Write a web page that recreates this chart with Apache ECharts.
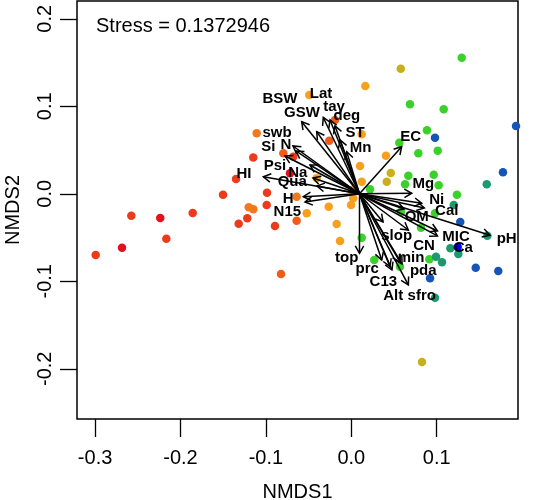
<!DOCTYPE html>
<html><head><meta charset="utf-8">
<script src="https://cdn.jsdelivr.net/npm/echarts@6/dist/echarts.min.js"></script>
<style>html,body{margin:0;padding:0;background:#fff}#c{width:534px;height:500px}</style>
</head><body><div id="c"></div>
<script>
// ---- axis ticks ----
const xTicks = [-0.3, -0.2, -0.1, 0.0, 0.1];
const yTicks = [-0.2, -0.1, 0.0, 0.1, 0.2];
const stressText = 'Stress = 0.1372946';

// ---- site scores (NMDS1, NMDS2), grouped by colour class ----
const sitesRed = [[-0.2685,-0.0616],[-0.2237,-0.0277],[-0.0718,0.0234]];
const sitesRedOrange = [[-0.2993,-0.0699],[-0.2576,-0.0250],[-0.2166,-0.0513],[-0.1857,-0.0219],[-0.1502,-0.0010],
  [-0.1350,0.0169],[-0.1319,-0.0342],[-0.1218,-0.0280],[-0.0894,-0.0368],[-0.0987,0.0013],[-0.0991,-0.0128],
  [-0.0680,0.0424],[-0.1148,0.0415]];
const sitesOrangeRed = [[-0.0796,0.0463],[-0.0640,-0.0307],[-0.0823,-0.0917],[-0.0191,0.0843],[-0.0258,0.0607]];
const sitesOrange = [[-0.1201,-0.0154],[-0.1148,-0.0177],[-0.1108,0.0691],[-0.0640,-0.0033]];
const sitesAmber = [[-0.0522,-0.0223],[-0.0492,0.1129],[0.0164,0.1232],[0.0122,0.0680],[0.0102,0.0318],[0.0122,0.0138],
  [0.0406,0.0435],[0.0005,0.0043],[0.0023,-0.0051],[-0.0003,-0.0128],[-0.0265,-0.0147],[-0.0171,-0.0345],
  [-0.0132,-0.0539],[-0.0405,0.0177]];
const sitesOlive = [[0.0579,0.1430],[0.0462,0.0238],[0.0415,0.0138],[0.0828,-0.1922]];
const sitesGreen = [[0.1293,0.1555],[0.0687,0.1023],[0.1082,0.0966],[0.0886,0.0726],[0.0785,0.0463],[0.1012,0.0493],
  [0.0562,0.0584],[0.0668,0.0207],[0.0965,0.0218],[0.0629,0.0109],[0.1023,0.0097],[0.0219,0.0051],[0.1237,-0.0010],
  [0.0582,-0.0205],[0.0816,-0.0387],[0.0980,-0.0223],[0.0122,-0.0502],[0.0269,-0.0757],[0.0570,-0.0833],[0.0914,-0.0749]];
const sitesTeal = [[0.0992,-0.0719],[0.1062,-0.0783],[0.1160,-0.0623],[0.1253,-0.0688],[0.1200,-0.0128],[0.1586,0.0109],
  [0.0980,-0.1187],[0.1593,-0.0479]];
const sitesBlue = [[0.1276,-0.0322],[0.0980,0.0641],[0.1929,0.0775],[0.1776,0.0246],[0.1457,-0.0845],[0.1721,-0.0882],
  [0.0922,-0.0966]];
const sitesBrightBlue = [[0.1246,-0.0608]];

// ---- environmental fitted vectors (drawn from a common origin) ----
const arrowOrigin = [0.0096, 0.0];
const envNames = ['BSW','GSW','Lat','tay','deg','ST','Mn','swb','N','Si','Psi','Na','Qua','HI','H','N15',
  'EC','Mg','Ni','Cal','OM','MIC','Ca','pH','CN','slop','top','min','prc','C13','pda','Alt','sfro'];
const envX = [-0.0581,-0.0405,-0.0328,-0.0249,-0.0191,-0.0132,-0.0054,-0.0683,-0.0648,-0.0776,-0.0484,-0.0448,-0.0402,-0.1030,-0.0562,-0.0542,
  0.0590,0.0708,0.0825,0.0855,0.0618,0.1009,0.1009,0.1624,0.0668,0.0372,0.0096,0.0570,0.0356,0.0454,0.0594,0.0476,0.0668];
const envY = [0.0824,0.0710,0.0872,0.0843,0.0775,0.0615,0.0481,0.0546,0.0489,0.0432,0.0329,0.0181,0.0089,0.0195,-0.0033,-0.0094,
  0.0538,0.0006,-0.0109,-0.0162,-0.0174,-0.0425,-0.0482,-0.0474,-0.0414,-0.0322,-0.0680,-0.0779,-0.0757,-0.0833,-0.0802,-0.0871,-0.1042];
const envLabelX = [-0.0835,-0.0577,-0.0355,-0.0202,-0.0051,0.0044,0.0110,-0.0870,-0.0765,-0.0972,-0.0894,-0.0627,-0.0691,-0.1256,-0.0738,-0.0749,
  0.0695,0.0843,0.1000,0.1118,0.0766,0.1226,0.1311,0.1819,0.0851,0.0531,-0.0054,0.0700,0.0187,0.0375,0.0843,0.0491,0.0825];
const envLabelY = [0.1083,0.0923,0.1141,0.0989,0.0889,0.0698,0.0527,0.0695,0.0558,0.0538,0.0318,0.0241,0.0131,0.0230,-0.0059,-0.0208,
  0.0646,0.0112,-0.0071,-0.0197,-0.0269,-0.0494,-0.0616,-0.0520,-0.0597,-0.0482,-0.0737,-0.0730,-0.0863,-0.1005,-0.0882,-0.1168,-0.1168];

const FONT = '"Liberation Sans", Helvetica, Arial, sans-serif';

const groups = [
  [sitesRed, '#e5101c'], [sitesRedOrange, '#ec3b1b'], [sitesOrangeRed, '#f05c18'], [sitesOrange, '#f4781b'],
  [sitesAmber, '#f7a01e'], [sitesOlive, '#c9b01b'], [sitesGreen, '#3ad12b'], [sitesTeal, '#1b9a6e'],
  [sitesBlue, '#1555b8'], [sitesBrightBlue, '#0000f5']
];

const series = groups.map(g => ({
  type: 'scatter', data: g[0], symbol: 'circle', symbolSize: 8.5,
  itemStyle: { color: g[1], opacity: 1 }, z: 2, silent: true
}));

series.push({
  type: 'custom', z: 3, silent: true,
  data: envX.map((x, i) => [x, envY[i]]),
  renderItem: function (params, api) {
    const o = api.coord(arrowOrigin);
    const t = api.coord([api.value(0), api.value(1)]);
    const ang = Math.atan2(t[1] - o[1], t[0] - o[0]);
    const L = 8.5, a = Math.PI / 6;
    const h1 = [t[0] - L * Math.cos(ang - a), t[1] - L * Math.sin(ang - a)];
    const h2 = [t[0] - L * Math.cos(ang + a), t[1] - L * Math.sin(ang + a)];
    return { type: 'group', children: [
      { type: 'line', shape: { x1: o[0], y1: o[1], x2: t[0], y2: t[1] }, style: { stroke: '#000', lineWidth: 1.5 } },
      { type: 'polyline', shape: { points: [h1, t, h2] }, style: { stroke: '#000', fill: null, lineWidth: 1.5 } }
    ]};
  }
});

series.push({
  type: 'custom', z: 4, silent: true,
  data: envLabelX.map((x, i) => [x, envLabelY[i]]),
  renderItem: function (params, api) {
    const p = api.coord([api.value(0), api.value(1)]);
    return { type: 'text', x: p[0], y: p[1], style: {
      text: envNames[params.dataIndex], fill: '#000', fontFamily: FONT, fontWeight: 'bold', fontSize: 15,
      align: 'center', verticalAlign: 'middle' } };
  }
});

const option = {
  animation: false,
  backgroundColor: '#fff',
  grid: { left: 77, right: 16, top: 1, bottom: 81, show: true, borderColor: '#000', borderWidth: 1.5, backgroundColor: 'transparent' },
  xAxis: {
    type: 'value', min: -0.3212, max: 0.1952,
    axisLine: { show: false, onZero: false }, splitLine: { show: false },
    axisTick: { show: true, customValues: xTicks, length: 18, lineStyle: { color: '#000', width: 1.3 } },
    axisLabel: { customValues: xTicks, formatter: v => v.toFixed(1), color: '#000', fontSize: 20, fontFamily: FONT, margin: 29 }
  },
  yAxis: {
    type: 'value', min: -0.2574, max: 0.2203,
    axisLine: { show: false, onZero: false }, splitLine: { show: false },
    axisTick: { show: true, customValues: yTicks, length: 17, lineStyle: { color: '#000', width: 1.3 } },
    axisLabel: { customValues: yTicks, formatter: v => v.toFixed(1), rotate: 90, color: '#000', fontSize: 20, fontFamily: FONT, margin: 22 }
  },
  graphic: [
    { type: 'text', left: 96, top: 16, style: { text: stressText, fill: '#000', fontSize: 20, fontFamily: FONT } },
    { type: 'text', x: 297.5, y: 492, style: { text: 'NMDS1', fill: '#000', fontSize: 20, fontFamily: FONT, align: 'center', verticalAlign: 'middle' } },
    { type: 'text', x: 13, y: 210, rotation: Math.PI / 2, style: { text: 'NMDS2', fill: '#000', fontSize: 20, fontFamily: FONT, align: 'center', verticalAlign: 'middle' } }
  ],
  series: series
};

const chart = echarts.init(document.getElementById('c'), null, { renderer: 'canvas' });
chart.setOption(option);
</script>
</body></html>
